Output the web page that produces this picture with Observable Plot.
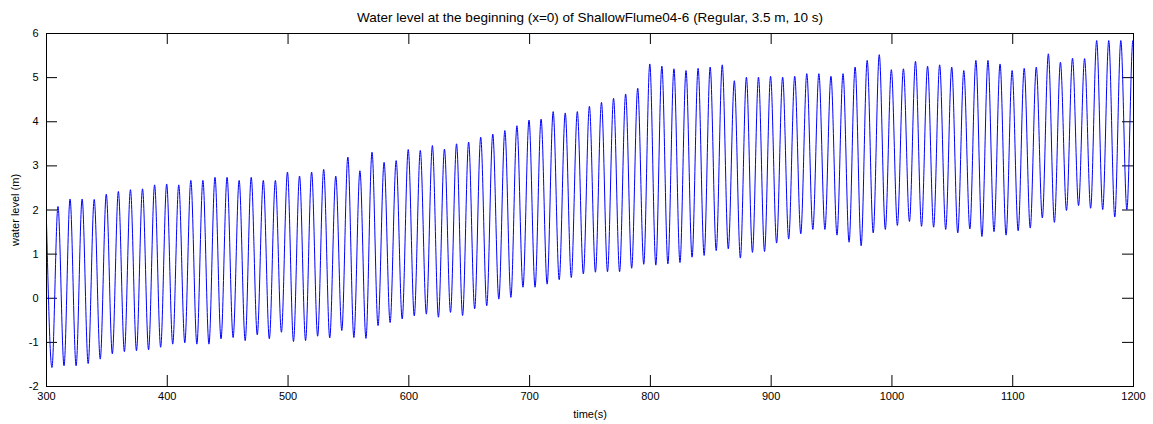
<!DOCTYPE html>
<html>
<head>
<meta charset="utf-8">
<script src="https://cdn.jsdelivr.net/npm/d3@7"></script>
<script src="https://cdn.jsdelivr.net/npm/@observablehq/plot@0.6"></script>
<style>
  html, body { margin: 0; padding: 0; background: #fff; }
</style>
</head>
<body>
<div id="chart"></div>
<script>
const titleText = "Water level at the beginning (x=0) of ShallowFlume04-6 (Regular, 3.5 m, 10 s)";
const xLabel = "time(s)";
const yLabel = "water level (m)";
const xTicks = [300, 400, 500, 600, 700, 800, 900, 1000, 1100, 1200];
const yTicks = [-2, -1, 0, 1, 2, 3, 4, 5, 6];

// wave crests (time s, level m)
const crestTime = [309.5, 319.5, 329.5, 339.5, 349.5, 359.5, 369.5, 379.5, 389.5, 399.5,
  409.5, 419.5, 429.5, 439.5, 449.5, 459.5, 469.5, 479.5, 489.5, 499.5,
  509.5, 519.5, 529.5, 539.5, 549.5, 559.5, 569.5, 579.5, 589.5, 599.5,
  609.5, 619.5, 629.5, 639.5, 649.5, 659.5, 669.5, 679.5, 689.5, 699.5,
  709.5, 719.5, 729.5, 739.5, 749.5, 759.5, 769.5, 779.5, 789.5, 799.5,
  809.5, 819.5, 829.5, 839.5, 849.5, 859.5, 869.5, 879.5, 889.5, 899.5,
  909.5, 919.5, 929.5, 939.5, 949.5, 959.5, 969.5, 979.5, 989.5, 999.5,
  1009.5, 1019.5, 1029.5, 1039.5, 1049.5, 1059.5, 1069.5, 1079.5, 1089.5, 1099.5,
  1109.5, 1119.5, 1129.5, 1139.5, 1149.5, 1159.5, 1169.5, 1179.5, 1189.5, 1199.5];
const crestLevel = [2.08, 2.25, 2.25, 2.24, 2.36, 2.42, 2.46, 2.48, 2.57, 2.59,
  2.57, 2.67, 2.67, 2.74, 2.74, 2.67, 2.74, 2.67, 2.67, 2.86,
  2.77, 2.86, 2.92, 2.77, 3.20, 2.89, 3.31, 3.08, 3.12, 3.37,
  3.35, 3.46, 3.38, 3.50, 3.54, 3.65, 3.72, 3.80, 3.91, 4.04,
  4.06, 4.23, 4.20, 4.23, 4.35, 4.44, 4.53, 4.63, 4.76, 5.31,
  5.26, 5.20, 5.16, 5.21, 5.24, 5.29, 4.93, 5.01, 5.01, 5.03,
  5.01, 5.03, 5.09, 5.09, 5.03, 5.09, 5.24, 5.39, 5.52, 5.18,
  5.20, 5.37, 5.26, 5.29, 5.24, 5.16, 5.39, 5.39, 5.31, 5.16,
  5.21, 5.24, 5.54, 5.35, 5.44, 5.43, 5.84, 5.84, 5.84, 5.84];

// wave troughs (time s, level m)
const troughTime = [304.5, 314.5, 324.5, 334.5, 344.5, 354.5, 364.5, 374.5, 384.5, 394.5,
  404.5, 414.5, 424.5, 434.5, 444.5, 454.5, 464.5, 474.5, 484.5, 494.5,
  504.5, 514.5, 524.5, 534.5, 544.5, 554.5, 564.5, 574.5, 584.5, 594.5,
  604.5, 614.5, 624.5, 634.5, 644.5, 654.5, 664.5, 674.5, 684.5, 694.5,
  704.5, 714.5, 724.5, 734.5, 744.5, 754.5, 764.5, 774.5, 784.5, 794.5,
  804.5, 814.5, 824.5, 834.5, 844.5, 854.5, 864.5, 874.5, 884.5, 894.5,
  904.5, 914.5, 924.5, 934.5, 944.5, 954.5, 964.5, 974.5, 984.5, 994.5,
  1004.5, 1014.5, 1024.5, 1034.5, 1044.5, 1054.5, 1064.5, 1074.5, 1084.5, 1094.5,
  1104.5, 1114.5, 1124.5, 1134.5, 1144.5, 1154.5, 1164.5, 1174.5, 1184.5, 1194.5];
const troughLevel = [-1.57, -1.53, -1.53, -1.48, -1.38, -1.26, -1.21, -1.19, -1.17, -1.11,
  -1.04, -1.01, -1.04, -1.04, -0.92, -0.89, -0.96, -0.83, -0.92, -0.77,
  -0.98, -0.96, -0.86, -0.90, -0.73, -0.89, -0.91, -0.62, -0.55, -0.47,
  -0.40, -0.36, -0.43, -0.32, -0.39, -0.24, -0.17, -0.02, 0.02, 0.25,
  0.25, 0.32, 0.42, 0.47, 0.55, 0.59, 0.60, 0.60, 0.68, 0.77,
  0.75, 0.78, 0.81, 0.93, 0.97, 1.08, 1.12, 0.91, 1.04, 1.06,
  1.25, 1.34, 1.46, 1.56, 1.56, 1.43, 1.27, 1.19, 1.48, 1.56,
  1.65, 1.74, 1.63, 1.61, 1.56, 1.48, 1.57, 1.40, 1.51, 1.43,
  1.53, 1.59, 1.82, 1.72, 1.99, 2.10, 2.04, 2.01, 1.84, 2.01];

// first and last recorded samples
const edgeTime = [300, 1200];
const edgeLevel = [1.72, 5.80];

const points = [];
crestTime.forEach((t, i) => points.push({t, v: crestLevel[i]}));
troughTime.forEach((t, i) => points.push({t, v: troughLevel[i]}));
edgeTime.forEach((t, i) => points.push({t, v: edgeLevel[i]}));
points.sort((a, b) => a.t - b.t);

const W = 1153, H = 424;
const mL = 46, mR = 20, mT = 33, mB = 38;
const plotH = H - mT - mB;
const plotW = W - mL - mR;
const tickLen = 11;

const chart = Plot.plot({
  width: W,
  height: H,
  marginLeft: mL,
  marginRight: mR,
  marginTop: mT,
  marginBottom: mB,
  style: {fontFamily: "'Liberation Sans', Arial, sans-serif", fontSize: "11px", color: "#000", background: "#fff"},
  x: {domain: [300, 1200]},
  y: {domain: [-2, 6]},
  marks: [
    Plot.tickX(xTicks, {x: d => d, insetTop: plotH - tickLen, stroke: "#000"}),
    Plot.tickX(xTicks, {x: d => d, insetBottom: plotH - tickLen, stroke: "#000"}),
    Plot.tickY(yTicks, {y: d => d, insetRight: plotW - tickLen, stroke: "#000"}),
    Plot.tickY(yTicks, {y: d => d, insetLeft: plotW - tickLen, stroke: "#000"}),
    Plot.axisX(xTicks, {tickSize: 0, tickPadding: 6, tickFormat: d => String(d), label: xLabel, labelAnchor: "center", labelArrow: "none", labelOffset: 31}),
    Plot.axisY(yTicks, {tickSize: 0, tickPadding: 8, tickFormat: d => String(d), label: yLabel, labelAnchor: "center", labelArrow: "none", labelOffset: 35}),
    Plot.line(points, {x: "t", y: "v", stroke: "#0000ff", strokeWidth: 1, curve: "monotone-x"}),
    Plot.frame({stroke: "#000"}),
    Plot.text([titleText], {frameAnchor: "top", dy: -16, lineAnchor: "middle", fontSize: 13.5, fill: "#000"})
  ]
});
document.getElementById("chart").appendChild(chart);
</script>
</body>
</html>
